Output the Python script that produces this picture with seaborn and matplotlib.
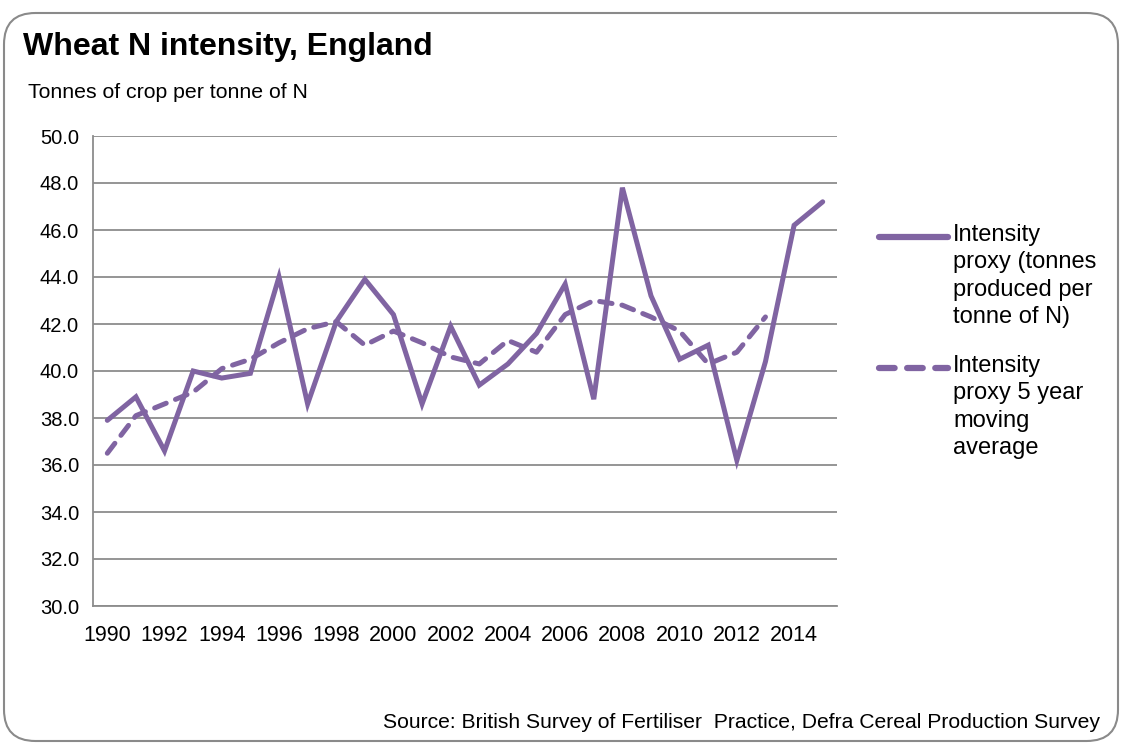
import numpy as np
import pandas as pd
import seaborn as sns
import matplotlib.pyplot as plt
from matplotlib.patches import FancyBboxPatch
from matplotlib.lines import Line2D

# Data
years = list(range(1990, 2016))
intensity = [37.9, 38.9, 36.6, 40.0, 39.7, 39.9, 44.0, 38.6, 42.1, 43.9,
             42.4, 38.6, 41.9, 39.4, 40.3, 41.6, 43.7, 38.8, 47.8, 43.2,
             40.5, 41.1, 36.2, 40.4, 46.2, 47.2]
moving_avg = [36.5, 38.1, 38.6, 39.1, 40.1, 40.5, 41.2, 41.8, 42.1, 41.1,
              41.7, 41.2, 40.6, 40.3, 41.3, 40.8, 42.4, 43.0, 42.8, 42.3,
              41.7, 40.3, 40.8, 42.3, np.nan, np.nan]
label_solid = "Intensity\nproxy (tonnes\nproduced per\ntonne of N)"
label_dash = "Intensity\nproxy 5 year\nmoving\naverage"
title = "Wheat N intensity, England"
subtitle = "Tonnes of crop per tonne of N"
source = "Source: British Survey of Fertiliser  Practice, Defra Cereal Production Survey"

sns.set_style("white")
plt.rcParams['font.family'] = ['Liberation Sans', 'DejaVu Sans']
plt.rcParams['text.color'] = 'black'

W, H = 1121, 743
fig = plt.figure(figsize=(W / 100, H / 100), dpi=100)
ax = fig.add_axes([93 / W, 1 - 606 / H, (837 - 93) / W, (606 - 136) / H])

df = pd.DataFrame({'pos': np.arange(len(years)), 'intensity': intensity, 'avg': moving_avg})
purple = '#8064A2'
grey = '#8C8C8C'

sns.lineplot(data=df, x='pos', y='intensity', ax=ax, color=purple, lw=3.6,
             solid_capstyle='round', solid_joinstyle='miter', legend=False)
sns.lineplot(data=df.dropna(), x='pos', y='avg', ax=ax, color=purple, lw=3.6,
             legend=False)
ax.lines[1].set_dashes([2.5, 2.0])
ax.lines[1].set_dash_capstyle('round')

ax.set_xlim(-0.5, len(years) - 0.5)
ax.set_ylim(30, 50)
ax.set_yticks(np.arange(30, 50.1, 2))
ax.set_yticklabels([f"{v:.1f}" for v in np.arange(30, 50.1, 2)], fontsize=14.5)
ax.set_xticks(np.arange(0, len(years), 2))
ax.set_xticklabels([str(y) for y in years[::2]], fontsize=15.5)
ax.set_xticks(np.arange(-0.5, len(years), 1), minor=True)
ax.tick_params(axis='x', which='major', length=0, pad=14, labelcolor='black')
ax.tick_params(axis='x', which='minor', length=6, width=1.2, color=grey, direction='out')
ax.tick_params(axis='y', length=6, width=1.2, color=grey, direction='out', pad=4,
               labelcolor='black')
ax.set_xlabel('')
ax.set_ylabel('')

ax.grid(axis='y', color=grey, lw=1.3)
ax.set_axisbelow(True)
for s in ['top', 'right']:
    ax.spines[s].set_visible(False)
for s in ['left', 'bottom']:
    ax.spines[s].set_color(grey)
    ax.spines[s].set_linewidth(1.3)

# legend drawn by hand so the key sits beside the first line of each label
for label, ls, y0 in [(label_solid, '-', 237), (label_dash, (0, (2.5, 2.0)), 368)]:
    fig.add_artist(Line2D([879 / W, 948 / W], [1 - y0 / H, 1 - y0 / H], color=purple,
                          lw=4.5, ls=ls, solid_capstyle='round', dash_capstyle='round'))
    fig.text(953 / W, 1 - (y0 - 13) / H, label, fontsize=17, ha='left', va='top',
             linespacing=1.31)

fig.text(23 / W, 1 - 47 / H, title, fontsize=23, fontweight='bold', va='center', ha='left')
fig.text(28 / W, 1 - 92 / H, subtitle, fontsize=15.3, va='center', ha='left')
fig.text(1100 / W, 1 - 722 / H, source, fontsize=15.2, va='center', ha='right')

box = FancyBboxPatch((4 / W, 1 - 741 / H), (1118 - 4) / W, (741 - 13) / H,
                     boxstyle="round,pad=0,rounding_size=0.028",
                     transform=fig.transFigure, fill=False, ec='#8A8A8A', lw=1.5,
                     mutation_aspect=W / H)
fig.patches.append(box)

fig.savefig('out.png', dpi=100)
